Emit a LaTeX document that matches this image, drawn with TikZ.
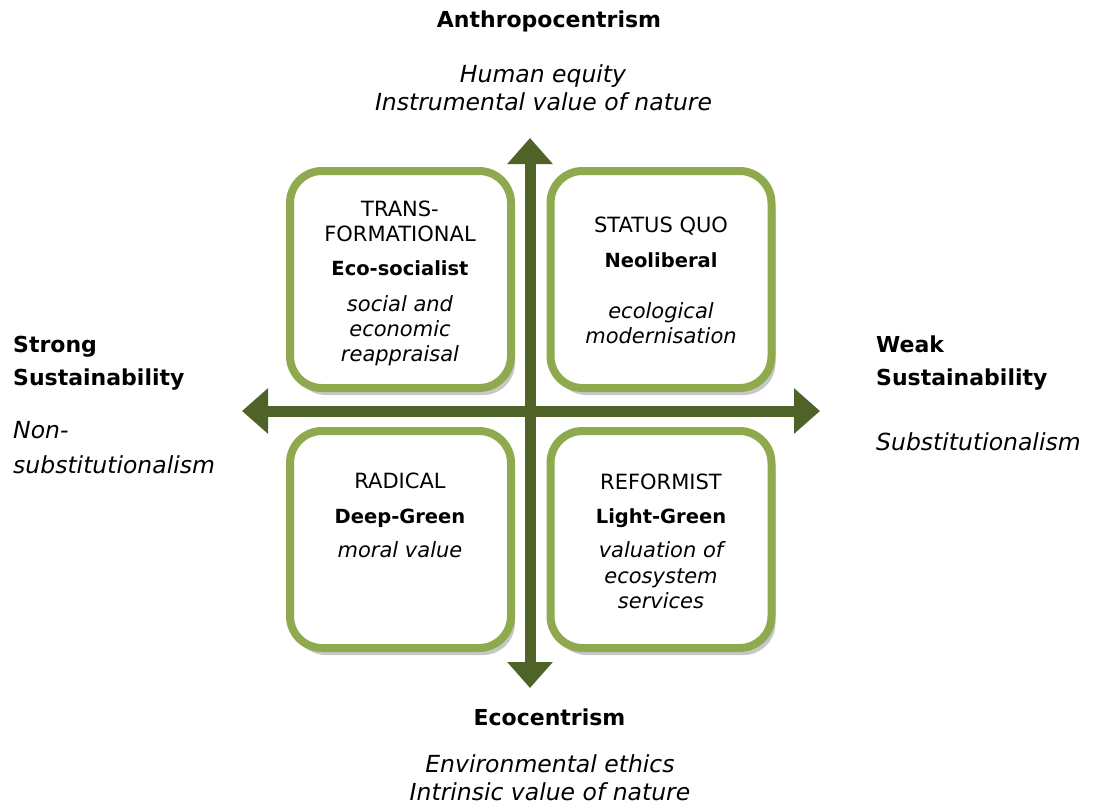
\documentclass[tikz,border=0pt]{standalone}
\usepackage{fontspec}
\setmainfont{DejaVu Sans}
\usetikzlibrary{arrows.meta,shadows}
\definecolor{boxgreen}{HTML}{8FAA4E}
\definecolor{axisgreen}{HTML}{4F6228}
\newcommand\qreg{\fontsize{21}{25}\selectfont}
\newcommand\qbf{\bfseries\fontsize{19.5}{24}\selectfont}
\newcommand\qit{\itshape\fontsize{21}{25}\selectfont}
\newcommand\hbf{\bfseries\fontsize{22}{30}\selectfont}
\newcommand\hit{\itshape\fontsize{23.5}{30}\selectfont}
\begin{document}
\begin{tikzpicture}[x=1pt,y=-1pt,
  qbox/.style={draw=boxgreen, line width=8pt, rounded corners=32pt, fill=white,
    minimum width=221pt, minimum height=217pt, inner sep=0pt,
    drop shadow={shadow xshift=4pt, shadow yshift=-7pt, opacity=0.22, fill=black}},
  axisarrow/.style={draw=axisgreen, line width=11pt,
    {Triangle[length=26pt,width=44pt]}-{Triangle[length=26pt,width=44pt]}},
  ctxt/.style={inner sep=0pt, anchor=base},
  ltxt/.style={inner sep=0pt, anchor=base west}]
\useasboundingbox (0,0) rectangle (1101,809);
% quadrant boxes
\node[qbox] (tl) at (400.5,279.5) {};
\node[qbox] (tr) at (661,279.5) {};
\node[qbox] (bl) at (400.5,539.5) {};
\node[qbox] (br) at (661,539.5) {};
% axes
\coordinate (top) at (530,138);
\coordinate (bottom) at (530,688);
\coordinate (left) at (242,411);
\coordinate (right) at (820,411);
\draw[axisarrow] (bottom) -- (top);
\draw[axisarrow] (left) -- (right);
% top labels
\node[ctxt] (anth) at (549,27) {\hbf Anthropocentrism};
\node[ctxt] (anth1) at (543,82) {\hit Human equity};
\node[ctxt] (anth2) at (543.5,110) {\hit Instrumental value of nature};
% bottom labels
\node[ctxt] (eco) at (549.5,725) {\hbf Ecocentrism};
\node[ctxt] (eco1) at (550,772) {\hit Environmental ethics};
\node[ctxt] (eco2) at (550,800) {\hit Intrinsic value of nature};
% left labels
\node[ltxt] (str1) at (13,352) {\hbf Strong};
\node[ltxt] (str2) at (13,385) {\hbf Sustainability};
\node[ltxt] (str3) at (13,438) {\hit Non-};
\node[ltxt] (str4) at (13,473) {\hit substitutionalism};
% right labels
\node[ltxt] (wk1) at (876,352) {\hbf Weak};
\node[ltxt] (wk2) at (876,385) {\hbf Sustainability};
\node[ltxt] (wk3) at (876,450) {\hit Substitutionalism};
% TL quadrant
\node[ctxt] (tla) at (400,216) {\qreg TRANS-};
\node[ctxt] (tlb) at (400,241) {\qreg FORMATIONAL};
\node[ctxt] (tlc) at (400,275) {\qbf Eco-socialist};
\node[ctxt] (tld) at (400,311) {\qit social and};
\node[ctxt] (tle) at (400,336) {\qit economic};
\node[ctxt] (tlf) at (400,361) {\qit reappraisal};
% TR quadrant
\node[ctxt] (tra) at (661,232) {\qreg STATUS QUO};
\node[ctxt] (trb) at (661,267) {\qbf Neoliberal};
\node[ctxt] (trc) at (661,318) {\qit ecological};
\node[ctxt] (trd) at (661,343) {\qit modernisation};
% BL quadrant
\node[ctxt] (bla) at (400,488) {\qreg RADICAL};
\node[ctxt] (blb) at (400,523) {\qbf Deep-Green};
\node[ctxt] (blc) at (400,557) {\qit moral value};
% BR quadrant
\node[ctxt] (bra) at (661,489) {\qreg REFORMIST};
\node[ctxt] (brb) at (661,523) {\qbf Light-Green};
\node[ctxt] (brc) at (661,557) {\qit valuation of};
\node[ctxt] (brd) at (661,583) {\qit ecosystem};
\node[ctxt] (bre) at (661,608) {\qit services};
\end{tikzpicture}
\end{document}
